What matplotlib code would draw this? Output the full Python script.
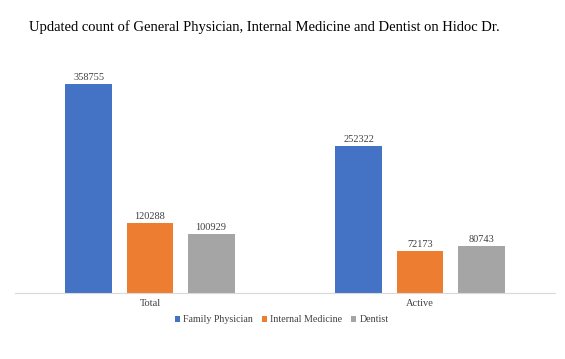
import numpy as np
import matplotlib.pyplot as plt

# data
categories = ["Total", "Active"]
series_names = ["Family Physician", "Internal Medicine", "Dentist"]
family_physician = [358755, 252322]
internal_medicine = [120288, 72173]
dentist = [100929, 80743]
colors = ["#4472C4", "#ED7D31", "#A5A5A5"]

plt.rcParams['font.family'] = ['Liberation Serif', 'DejaVu Serif']

fig = plt.figure(figsize=(5.65, 3.59), dpi=100)
ax = fig.add_axes([15 / 565, 1 - 293 / 359, 540 / 565, 233 / 359])

x = np.arange(len(categories))
width = 0.174
step = 0.226
for i, (name, vals) in enumerate(zip(series_names, [family_physician, internal_medicine, dentist])):
    pos = x + (i - 1) * step
    bars = ax.bar(pos, vals, width, color=colors[i], label=name)
    for b, v in zip(bars, vals):
        ax.text(b.get_x() + b.get_width() / 2, v + 4000, str(v),
                ha='center', va='bottom', fontsize=7.5, color='#404040')

ax.set_xlim(-0.5, 1.5)
ax.set_ylim(0, 400000)
ax.set_xticks(x)
ax.set_xticklabels(categories, fontsize=7.5, color='#404040')
ax.tick_params(axis='x', length=0, pad=4)
ax.set_yticks([])
for s in ['top', 'right', 'left']:
    ax.spines[s].set_visible(False)
ax.spines['bottom'].set_color('#D9D9D9')

fig.text(264 / 565, 1 - 27 / 359, "Updated count of General Physician, Internal Medicine and Dentist on Hidoc Dr.",
         ha='center', va='center', fontsize=10.5, color='black')

fig.legend(loc='center', bbox_to_anchor=(282 / 565, 1 - 320 / 359), ncol=3, frameon=False,
           prop={'family': 'Liberation Serif', 'size': 7.2}, handlelength=0.5, handleheight=0.5,
           handletextpad=0.3, columnspacing=0.9, labelcolor='#404040')

fig.savefig("out.png", dpi=100, facecolor='white')
